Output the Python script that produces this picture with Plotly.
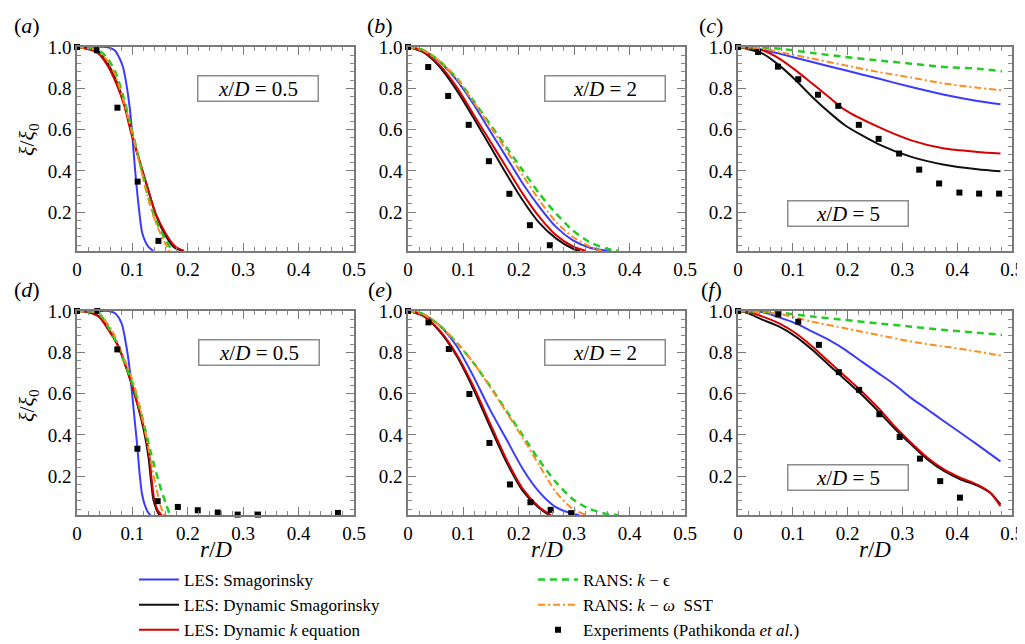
import plotly.graph_objects as go

# ---------------- data ----------------
# panel (a)  x/D = 0.5, top row
a_smag_r = [0, 0.03, 0.053, 0.068, 0.077, 0.083, 0.089, 0.095, 0.099, 0.105, 0.1125, 0.118, 0.129, 0.1375]
a_smag_y = [1, 1, 1.0, 0.984, 0.944, 0.903, 0.823, 0.71, 0.6, 0.4, 0.2, 0.097, 0.032, 0.013]
a_dsmag_r = [0, 0.035, 0.053, 0.071, 0.086, 0.098, 0.112, 0.127, 0.142, 0.158, 0.175, 0.19]
a_dsmag_y = [1, 0.98, 0.93, 0.835, 0.72, 0.59, 0.455, 0.32, 0.19, 0.095, 0.03, 0.013]
a_dk_r = [0, 0.035, 0.053, 0.071, 0.086, 0.098, 0.1125, 0.127, 0.142, 0.16, 0.178, 0.193]
a_dk_y = [1, 0.976, 0.919, 0.823, 0.71, 0.581, 0.452, 0.323, 0.194, 0.097, 0.032, 0.013]
a_ke_r = [0, 0.035, 0.053, 0.068, 0.083, 0.098, 0.1125, 0.127, 0.142, 0.16, 0.172]
a_ke_y = [1, 0.99, 0.952, 0.887, 0.766, 0.61, 0.452, 0.29, 0.161, 0.065, 0.013]
a_kw_r = [0, 0.035, 0.053, 0.068, 0.083, 0.098, 0.1125, 0.127, 0.142, 0.157, 0.167]
a_kw_y = [1, 0.985, 0.94, 0.87, 0.75, 0.6, 0.44, 0.28, 0.15, 0.06, 0.013]
a_exp_r = [0, 0.036, 0.073, 0.1095, 0.147]
a_exp_y = [1.0, 0.984, 0.706, 0.348, 0.061]

# panel (b)  x/D = 2, top row
b_smag_r = [0, 0.0275, 0.0575, 0.088, 0.1174, 0.1473, 0.1772, 0.207, 0.237, 0.2671, 0.297, 0.327, 0.357, 0.367]
b_smag_y = [1, 0.984, 0.927, 0.839, 0.726, 0.597, 0.468, 0.339, 0.226, 0.129, 0.065, 0.029, 0.014, 0.012]
b_dsmag_r = [0, 0.0275, 0.0575, 0.088, 0.1174, 0.1473, 0.1772, 0.207, 0.237, 0.267, 0.297, 0.31]
b_dsmag_y = [1, 0.975, 0.903, 0.79, 0.661, 0.524, 0.387, 0.258, 0.148, 0.073, 0.024, 0.012]
b_dk_r = [0, 0.0275, 0.0575, 0.088, 0.1174, 0.1473, 0.1772, 0.207, 0.237, 0.267, 0.297, 0.321]
b_dk_y = [1, 0.978, 0.911, 0.806, 0.677, 0.548, 0.419, 0.29, 0.177, 0.089, 0.035, 0.012]
b_ke_r = [0, 0.0275, 0.0575, 0.088, 0.1174, 0.1473, 0.1772, 0.207, 0.237, 0.267, 0.297, 0.327, 0.357, 0.381]
b_ke_y = [1, 0.985, 0.93, 0.85, 0.742, 0.629, 0.516, 0.403, 0.29, 0.194, 0.113, 0.056, 0.024, 0.012]
b_kw_r = [0, 0.0275, 0.0575, 0.088, 0.1174, 0.1473, 0.1772, 0.207, 0.237, 0.267, 0.297, 0.327, 0.35]
b_kw_y = [1, 0.985, 0.93, 0.848, 0.737, 0.62, 0.5, 0.379, 0.258, 0.153, 0.081, 0.035, 0.012]
b_exp_r = [0, 0.0365, 0.0725, 0.1096, 0.146, 0.183, 0.22, 0.256]
b_exp_y = [1.0, 0.903, 0.763, 0.623, 0.447, 0.289, 0.137, 0.04]

# panel (c)  x/D = 5, top row
c_smag_r = [0, 0.045, 0.0753, 0.1355, 0.1958, 0.256, 0.3163, 0.3765, 0.4367, 0.479]
c_smag_y = [1, 0.987, 0.968, 0.927, 0.887, 0.847, 0.806, 0.769, 0.739, 0.723]
c_dsmag_r = [0, 0.0151, 0.045, 0.0753, 0.1054, 0.1355, 0.1657, 0.1958, 0.256, 0.3163, 0.3765, 0.4367, 0.479]
c_dsmag_y = [1, 0.992, 0.968, 0.911, 0.839, 0.758, 0.685, 0.62, 0.53, 0.468, 0.43, 0.408, 0.398]
c_dk_r = [0, 0.0151, 0.045, 0.0753, 0.1054, 0.1355, 0.1657, 0.1958, 0.256, 0.3163, 0.3765, 0.4367, 0.479]
c_dk_y = [1, 0.995, 0.984, 0.944, 0.887, 0.823, 0.758, 0.694, 0.613, 0.548, 0.508, 0.492, 0.484]
c_ke_r = [0, 0.0753, 0.1355, 0.1958, 0.256, 0.3163, 0.3765, 0.4367, 0.482]
c_ke_y = [1, 0.992, 0.971, 0.952, 0.935, 0.919, 0.903, 0.895, 0.882]
c_kw_r = [0, 0.045, 0.0753, 0.1355, 0.1958, 0.256, 0.3163, 0.3765, 0.4367, 0.482]
c_kw_y = [1, 0.992, 0.976, 0.944, 0.911, 0.879, 0.852, 0.823, 0.803, 0.79]
c_exp_r = [0, 0.0367, 0.0729, 0.110, 0.146, 0.183, 0.2205, 0.2566, 0.294, 0.3307, 0.367, 0.404, 0.44, 0.4765]
c_exp_y = [1, 0.976, 0.905, 0.844, 0.769, 0.715, 0.623, 0.555, 0.484, 0.406, 0.339, 0.295, 0.29, 0.29]

# panel (d)  x/D = 0.5, bottom row
d_smag_r = [0, 0.04, 0.0568, 0.0686, 0.0805, 0.0893, 0.0953, 0.0994, 0.1041, 0.1089, 0.113, 0.1172, 0.1219, 0.1278, 0.1325]
d_smag_y = [1, 1, 1, 0.989, 0.94, 0.827, 0.714, 0.601, 0.472, 0.342, 0.213, 0.116, 0.064, 0.027, 0.011]
d_dsmag_r = [0, 0.0154, 0.039, 0.0568, 0.0746, 0.0923, 0.1071, 0.1205, 0.129, 0.1335, 0.138, 0.144, 0.149]
d_dsmag_y = [1, 0.997, 0.975, 0.912, 0.83, 0.7, 0.568, 0.423, 0.294, 0.18, 0.084, 0.035, 0.011]
d_dk_r = [0, 0.0154, 0.039, 0.0568, 0.0746, 0.0923, 0.1071, 0.1219, 0.1308, 0.1349, 0.1396, 0.1456, 0.1527]
d_dk_y = [1, 0.997, 0.973, 0.908, 0.827, 0.698, 0.568, 0.423, 0.294, 0.18, 0.084, 0.035, 0.011]
d_ke_r = [0, 0.02, 0.039, 0.0627, 0.0864, 0.1041, 0.1189, 0.1337, 0.1485, 0.1604, 0.168]
d_ke_y = [1, 0.998, 0.989, 0.892, 0.746, 0.617, 0.472, 0.31, 0.164, 0.067, 0.011]
d_kw_r = [0, 0.02, 0.039, 0.0627, 0.0864, 0.1041, 0.1189, 0.1308, 0.1426, 0.1515, 0.1574]
d_kw_y = [1, 0.998, 0.989, 0.908, 0.762, 0.633, 0.472, 0.31, 0.148, 0.051, 0.011]
d_exp_r = [0, 0.0367, 0.0728, 0.109, 0.1456, 0.182, 0.218, 0.254, 0.29, 0.3266, 0.471]
d_exp_y = [1, 1, 0.814, 0.333, 0.079, 0.051, 0.035, 0.024, 0.014, 0.014, 0.022]

# panel (e)  x/D = 2, bottom row
e_smag_r = [0, 0.0275, 0.0575, 0.0874, 0.1174, 0.1473, 0.1772, 0.2072, 0.2371, 0.267, 0.297, 0.309]
e_smag_y = [1, 0.985, 0.929, 0.832, 0.687, 0.526, 0.381, 0.235, 0.123, 0.05, 0.018, 0.012]
e_dsmag_r = [0, 0.0275, 0.0575, 0.0874, 0.1174, 0.1473, 0.1772, 0.2072, 0.2371, 0.255]
e_dsmag_y = [1, 0.976, 0.9, 0.784, 0.626, 0.445, 0.271, 0.129, 0.045, 0.012]
e_dk_r = [0, 0.0275, 0.0575, 0.0874, 0.1174, 0.1473, 0.1772, 0.2072, 0.2371, 0.258]
e_dk_y = [1, 0.977, 0.905, 0.792, 0.639, 0.461, 0.284, 0.139, 0.05, 0.012]
e_ke_r = [0, 0.0275, 0.0575, 0.0874, 0.1174, 0.1473, 0.1772, 0.2072, 0.2371, 0.267, 0.297, 0.327, 0.357, 0.381]
e_ke_y = [1, 0.985, 0.929, 0.848, 0.752, 0.639, 0.518, 0.397, 0.276, 0.171, 0.09, 0.042, 0.018, 0.012]
e_kw_r = [0, 0.0275, 0.0575, 0.0874, 0.1174, 0.1473, 0.1772, 0.2072, 0.2371, 0.267, 0.297, 0.321]
e_kw_y = [1, 0.985, 0.929, 0.848, 0.752, 0.635, 0.512, 0.385, 0.252, 0.123, 0.042, 0.012]
e_exp_r = [0, 0.037, 0.0737, 0.1108, 0.147, 0.184, 0.221, 0.2575, 0.2946]
e_exp_y = [1, 0.945, 0.816, 0.598, 0.361, 0.16, 0.074, 0.037, 0.021]

# panel (f)  x/D = 5, bottom row
f_smag_r = [0, 0.0452, 0.0753, 0.1054, 0.1355, 0.1657, 0.1958, 0.2259, 0.256, 0.2861, 0.3163, 0.3464, 0.3765, 0.4066, 0.4367, 0.4789]
f_smag_y = [1, 0.994, 0.969, 0.94, 0.9, 0.86, 0.812, 0.755, 0.699, 0.643, 0.578, 0.522, 0.465, 0.409, 0.353, 0.272]
f_dsmag_r = [0, 0.0151, 0.0452, 0.0753, 0.1054, 0.1355, 0.1657, 0.1958, 0.2259, 0.256, 0.2861, 0.3163, 0.3464, 0.3765, 0.4066, 0.4367, 0.4608, 0.4789]
f_dsmag_y = [1, 0.992, 0.957, 0.924, 0.876, 0.812, 0.739, 0.667, 0.594, 0.514, 0.43, 0.353, 0.28, 0.224, 0.184, 0.155, 0.119, 0.063]
f_dk_r = [0, 0.0151, 0.0452, 0.0753, 0.1054, 0.1355, 0.1657, 0.1958, 0.2259, 0.256, 0.2861, 0.3163, 0.3464, 0.3765, 0.4066, 0.4367, 0.4608, 0.4789]
f_dk_y = [1, 0.997, 0.973, 0.94, 0.892, 0.828, 0.755, 0.683, 0.61, 0.53, 0.441, 0.361, 0.288, 0.232, 0.192, 0.159, 0.119, 0.055]
f_ke_r = [0, 0.0753, 0.1355, 0.1958, 0.256, 0.3163, 0.3765, 0.4367, 0.4819]
f_ke_y = [1, 0.992, 0.973, 0.957, 0.94, 0.924, 0.908, 0.895, 0.884]
f_kw_r = [0, 0.0753, 0.1355, 0.1958, 0.256, 0.3163, 0.3765, 0.4367, 0.4819]
f_kw_y = [1, 0.986, 0.948, 0.916, 0.884, 0.852, 0.828, 0.804, 0.783]
f_exp_r = [0, 0.0735, 0.110, 0.1476, 0.184, 0.221, 0.258, 0.295, 0.332, 0.369, 0.405]
f_exp_y = [1, 0.984, 0.948, 0.836, 0.704, 0.618, 0.5, 0.39, 0.285, 0.176, 0.096]

panel_letters = ["a", "b", "c", "d", "e", "f"]
panel_xd = ["0.5", "2", "5", "0.5", "2", "5"]
x_ticks = [0, 0.1, 0.2, 0.3, 0.4, 0.5]
y_ticks = [0.2, 0.4, 0.6, 0.8, 1.0]

series_names = [
    "LES: Smagorinsky",
    "LES: Dynamic Smagorinsky",
    "LES: Dynamic <i>k</i> equation",
    "RANS: <i>k</i> \u2212 \u03f5",
    "RANS: <i>k</i> \u2212 <i>\u03c9</i>  SST",
    "Experiments (Pathikonda <i>et al.</i>)",
]

data = {
    "a": [(a_smag_r, a_smag_y), (a_dsmag_r, a_dsmag_y), (a_dk_r, a_dk_y), (a_ke_r, a_ke_y), (a_kw_r, a_kw_y), (a_exp_r, a_exp_y)],
    "b": [(b_smag_r, b_smag_y), (b_dsmag_r, b_dsmag_y), (b_dk_r, b_dk_y), (b_ke_r, b_ke_y), (b_kw_r, b_kw_y), (b_exp_r, b_exp_y)],
    "c": [(c_smag_r, c_smag_y), (c_dsmag_r, c_dsmag_y), (c_dk_r, c_dk_y), (c_ke_r, c_ke_y), (c_kw_r, c_kw_y), (c_exp_r, c_exp_y)],
    "d": [(d_smag_r, d_smag_y), (d_dsmag_r, d_dsmag_y), (d_dk_r, d_dk_y), (d_ke_r, d_ke_y), (d_kw_r, d_kw_y), (d_exp_r, d_exp_y)],
    "e": [(e_smag_r, e_smag_y), (e_dsmag_r, e_dsmag_y), (e_dk_r, e_dk_y), (e_ke_r, e_ke_y), (e_kw_r, e_kw_y), (e_exp_r, e_exp_y)],
    "f": [(f_smag_r, f_smag_y), (f_dsmag_r, f_dsmag_y), (f_dk_r, f_dk_y), (f_ke_r, f_ke_y), (f_kw_r, f_kw_y), (f_exp_r, f_exp_y)],
}

# ---------------- styling ----------------
# the page body has an 8 px margin, so the figure is drawn 8 px in from the corner
OFF = 8
W, H = 1025 - OFF, 644 - OFF
SERIF = "serif"
col_px = [(77, 354), (408, 685), (738, 1012)]   # window pixels
row_px = [(47, 251), (311, 515)]
YMIN = 0.012


def px(x):
    return (x - OFF) / W


def py(y):
    return 1 - (y - OFF) / H


line_styles = [
    dict(color="#3b3bff", width=2, dash="solid"),
    dict(color="#111111", width=2, dash="solid"),
    dict(color="#d80000", width=2, dash="solid"),
    dict(color="#22cc22", width=2.5, dash="7px,5px"),
    dict(color="#ff8a1e", width=2, dash="7px,3px,2px,3px"),
]
legend_of = ["legend", "legend", "legend", "legend2", "legend2", "legend2"]

fig = go.Figure()
layout = {}
annotations = []

for i, letter in enumerate(panel_letters):
    row, col = divmod(i, 3)
    k = "" if i == 0 else str(i + 1)
    xa, ya = "x" + k, "y" + k
    x0, x1 = col_px[col]
    y0, y1 = row_px[row]
    for s in range(6):
        r, v = data[letter][s]
        if s < 5:
            fig.add_trace(go.Scatter(
                x=r, y=v, mode="lines", name=series_names[s],
                line=dict(**line_styles[s], shape="spline", smoothing=0.7),
                xaxis=xa, yaxis=ya, showlegend=(i == 0), legend=legend_of[s],
                hoverinfo="skip",
            ))
        else:
            fig.add_trace(go.Scatter(
                x=r, y=v, mode="markers", name=series_names[s],
                marker=dict(symbol="square", size=6, color="black"),
                xaxis=xa, yaxis=ya, showlegend=(i == 0), legend=legend_of[s],
                hoverinfo="skip", cliponaxis=False,
            ))
    common = dict(
        showline=True, linecolor="#7a7a7a", linewidth=1.5, mirror="allticks",
        ticks="inside", ticklen=8, tickwidth=1.3, tickcolor="#7a7a7a",
        showgrid=False, zeroline=False, ticklabeloverflow="allow",
        tickfont=dict(family=SERIF, size=19, color="black"),
    )
    layout["xaxis" + k] = dict(
        common, domain=[px(x0), px(x1)], range=[0, 0.5], anchor=ya,
        tickvals=x_ticks, ticktext=[("0" if t == 0 else f"{t:.1f}") for t in x_ticks],
        minor=dict(dtick=0.02, tick0=0, ticks="inside", ticklen=4, tickcolor="#8a8a8a", showgrid=False),
    )
    layout["yaxis" + k] = dict(
        common, domain=[py(y1), py(y0)], range=[YMIN, 1.0], anchor=xa,
        tickvals=y_ticks, ticktext=[f"{t:.1f}" for t in y_ticks],
        minor=dict(dtick=0.04, tick0=0, ticks="inside", ticklen=4, tickcolor="#8a8a8a", showgrid=False),
    )
    # x/D box
    box_pos = {"a": (0.326, 0.80), "b": (0.355, 0.80), "c": (0.2, 0.196),
               "d": (0.329, 0.80), "e": (0.355, 0.80), "f": (0.2, 0.196)}[letter]
    annotations.append(dict(
        x=box_pos[0], y=box_pos[1], xref=xa, yref=ya, showarrow=False,
        text=f"<i>x</i>/<i>D</i> = {panel_xd[i]}",
        font=dict(family=SERIF, size=21, color="black"),
        bordercolor="#8c8c8c", borderwidth=1.5, borderpad=1, width=117, height=22,
        bgcolor="white",
    ))
    # panel label
    lab_x = [27, 380, 711][col]
    lab_y = [25, 289][row]
    annotations.append(dict(
        x=px(lab_x), y=py(lab_y), xref="paper", yref="paper", showarrow=False,
        text=f"(<i>{letter}</i>)", font=dict(family=SERIF, size=22, color="black"),
        xanchor="center", yanchor="middle",
    ))

# y titles
for yc in (140, 406):
    annotations.append(dict(
        x=px(28), y=py(yc), xref="paper", yref="paper", showarrow=False,
        text="<i>\u03be</i>/<i>\u03be</i><sub>0</sub>", textangle=-90,
        font=dict(family=SERIF, size=22, color="black"), xanchor="center", yanchor="middle",
    ))
# x titles
for (x0, x1) in col_px:
    annotations.append(dict(
        x=px((x0 + x1) / 2), y=py(549), xref="paper", yref="paper", showarrow=False,
        text="<i>r</i>/<i>D</i>", font=dict(family=SERIF, size=23, color="black"),
        xanchor="center", yanchor="middle",
    ))

legend_common = dict(
    xanchor="left", yanchor="top", orientation="v",
    font=dict(family=SERIF, size=17, color="black"),
    bgcolor="rgba(0,0,0,0)", borderwidth=0, tracegroupgap=0, itemwidth=40,
)
fig.update_layout(
    width=W, height=H, margin=dict(l=0, r=0, t=0, b=0, autoexpand=False),
    paper_bgcolor="white", plot_bgcolor="white",
    font=dict(family=SERIF),
    annotations=annotations,
    legend=dict(legend_common, x=px(134), y=py(562)),
    legend2=dict(legend_common, x=px(533), y=py(562)),
    **layout,
)

fig.write_html("out.html")
